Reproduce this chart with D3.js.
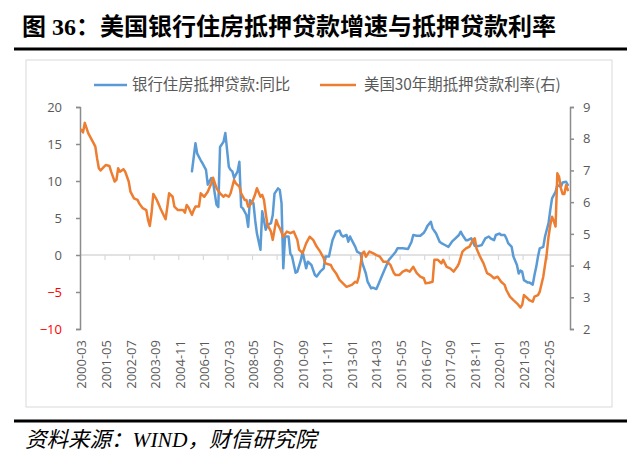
<!DOCTYPE html>
<html><head><meta charset="utf-8">
<script src="https://cdn.jsdelivr.net/npm/d3@7"></script>
<style>body{margin:0;background:#fff}svg{display:block}</style>
</head><body>
<svg id="c" width="640" height="464"></svg>
<script>
// ---------- data ----------
const titleText = "图 36：美国银行住房抵押贷款增速与抵押贷款利率";
const sourceText = "资料来源：WIND，财信研究院";
const seriesNames = ["银行住房抵押贷款:同比", "美国30年期抵押贷款利率(右)"];
const firstMonth = "2000-03", lastMonth = "2023-05";
const xTickLabels = ["2000-03","2001-05","2002-07","2003-09","2004-11","2006-01","2007-03","2008-05","2009-07","2010-09","2011-11","2013-01","2014-03","2015-05","2016-07","2017-09","2018-11","2020-01","2021-03","2022-05"];
const leftTicks = [-10,-5,0,5,10,15,20];
const rightTicks = [2,3,4,5,6,7,8,9];

// 银行住房抵押贷款:同比 (%), left axis
const loanGrowth = [
["2005-06",11.3],["2005-08",15.1],["2005-09",13.7],["2005-11",12.8],["2005-12",12.4],["2006-02",11.5],["2006-03",9.5],["2006-05",10.4],["2006-06",9.9],["2006-07",8.3],["2006-08",6.8],["2006-09",6.5],["2006-10",14.6],["2006-12",15.3],["2007-01",16.5],["2007-03",11.9],["2007-04",11.5],["2007-05",11.3],["2007-06",10.4],["2007-08",11.3],["2007-09",12.6],["2007-10",6.5],["2007-11",6.3],
["2008-01",5.4],["2008-02",3.8],["2008-03",7.4],["2008-05",7.0],["2008-06",4.7],["2008-07",2.9],["2008-09",0.7],["2008-10",5.9],["2008-12",3.4],["2009-01",4.05],["2009-03",4.3],["2009-04",5.4],["2009-05",8.3],["2009-07",9.0],["2009-08",8.8],["2009-09",7.0],["2009-10",-1.8],["2009-11",2.5],
["2010-01",2.5],["2010-02",0.2],["2010-03",-0.2],["2010-05",-2.4],["2010-06",-2.25],["2010-08",-0.7],["2010-09",0.45],["2010-11",-1.8],["2010-12",-0.9],["2011-02",-1.35],["2011-04",-2.7],["2011-05",-2.9],["2011-07",-2.25],["2011-09",-1.8],["2011-10",-0.2],["2011-12",-0.2],
["2012-01",0.9],["2012-02",2.0],["2012-04",3.15],["2012-06",3.3],["2012-07",2.7],["2012-08",2.5],["2012-10",2.7],["2012-11",1.8],["2012-12",2.5],["2013-01",2.0],["2013-03",1.1],["2013-04",0.45],["2013-06",0.2],["2013-07",-1.1],["2013-09",-2.5],["2013-10",-3.6],["2013-12",-4.5],
["2014-01",-4.4],["2014-03",-4.6],["2014-04",-4.05],["2014-06",-2.9],["2014-08",-1.8],["2014-10",-0.7],["2014-12",-0.14],["2015-02",0.45],["2015-03",0.9],["2015-06",0.9],["2015-09",0.8],["2015-11",1.8],["2015-12",2.7],
["2016-02",2.6],["2016-04",2.6],["2016-06",3.0],["2016-07",3.4],["2016-08",3.9],["2016-10",4.5],["2016-11",3.6],["2017-01",2.9],["2017-03",1.8],["2017-04",1.6],["2017-06",1.35],["2017-08",1.1],["2017-10",1.8],["2017-12",2.25],
["2018-02",2.7],["2018-03",3.15],["2018-04",2.7],["2018-06",2.0],["2018-07",2.0],["2018-09",2.25],["2018-10",1.8],["2018-11",1.2],["2019-01",1.2],["2019-03",1.35],["2019-05",2.25],["2019-07",2.5],["2019-08",2.25],["2019-10",2.0],["2019-11",2.7],
["2020-01",2.9],["2020-02",2.7],["2020-04",2.7],["2020-05",2.25],["2020-06",1.6],["2020-08",1.1],["2020-09",-0.2],["2020-11",-1.35],["2020-12",-2.5],["2021-01",-2.1],["2021-02",-2.25],["2021-03",-3.4],["2021-05",-3.7],["2021-06",-3.7],["2021-08",-4.0],["2021-09",-2.7],["2021-10",-1.6],["2021-11",-0.2],["2021-12",0.9],
["2022-02",1.1],["2022-03",2.5],["2022-05",4.3],["2022-06",6.1],["2022-07",7.65],["2022-08",8.1],["2022-09",8.55],["2022-10",9.46],["2022-12",9.2],["2023-01",9.8],["2023-03",9.9],["2023-04",9.46]
];

// 美国30年期抵押贷款利率 (%), right axis
const mortgageRate = [
["2000-03",8.28],["2000-04",8.2],["2000-05",8.5],["2000-07",8.17],["2000-10",7.86],["2000-11",7.75],["2000-12",7.38],["2001-01",7.07],["2001-02",7.0],["2001-04",7.12],["2001-05",7.17],["2001-07",7.14],["2001-08",6.96],["2001-10",6.65],["2001-11",6.7],["2001-12",7.07],
["2002-01",6.96],["2002-03",7.04],["2002-04",6.96],["2002-06",6.65],["2002-07",6.33],["2002-09",6.12],["2002-11",6.07],["2002-12",5.96],["2003-02",5.81],["2003-04",5.75],["2003-05",5.44],["2003-06",5.25],["2003-07",5.65],["2003-08",6.26],["2003-10",6.07],["2003-11",5.94],["2003-12",5.81],
["2004-03",5.46],["2004-04",5.86],["2004-05",6.28],["2004-07",6.17],["2004-08",5.86],["2004-10",5.75],["2005-01",5.75],["2005-02",5.67],["2005-03",5.91],["2005-04",5.84],["2005-06",5.6],["2005-07",5.75],["2005-08",5.86],["2005-10",5.86],["2005-11",6.28],
["2006-01",6.17],["2006-03",6.33],["2006-05",6.59],["2006-06",6.77],["2006-08",6.44],["2006-10",6.28],["2006-12",6.17],["2007-01",6.23],["2007-03",6.17],["2007-04",6.28],["2007-06",6.7],["2007-07",6.59],["2007-09",6.49],["2007-10",6.28],["2007-12",6.07],
["2008-01",6.07],["2008-02",5.86],["2008-04",5.96],["2008-06",6.25],["2008-07",6.44],["2008-09",6.17],["2008-10",6.23],["2008-11",6.07],["2008-12",5.65],["2009-01",5.28],["2009-02",5.18],["2009-03",5.07],["2009-04",4.81],["2009-06",5.44],["2009-07",5.28],["2009-08",5.18],["2009-10",4.91],["2009-12",5.07],
["2010-02",5.02],["2010-04",5.07],["2010-06",4.81],["2010-07",4.5],["2010-09",4.39],["2010-11",4.7],["2011-01",4.91],["2011-03",4.81],["2011-05",4.6],["2011-07",4.44],["2011-09",4.23],["2011-10",4.07],
["2012-01",4.02],["2012-02",3.91],["2012-04",3.76],["2012-06",3.55],["2012-08",3.44],["2012-10",3.33],["2013-01",3.39],["2013-03",3.49],["2013-04",3.46],["2013-05",3.65],["2013-07",4.39],["2013-08",4.44],["2013-09",4.28],["2013-11",4.44],
["2014-01",4.39],["2014-03",4.33],["2014-05",4.28],["2014-07",4.12],["2014-09",4.12],["2014-11",4.02],["2015-01",3.76],["2015-02",3.7],["2015-04",3.7],["2015-06",3.81],["2015-08",3.86],["2015-10",3.81],["2015-12",3.96],
["2016-02",3.76],["2016-04",3.65],["2016-06",3.6],["2016-07",3.44],["2016-09",3.46],["2016-11",3.49],["2016-12",4.18],["2017-02",4.18],["2017-04",4.07],["2017-05",4.18],["2017-07",3.96],["2017-09",3.91],["2017-11",3.81],
["2018-01",3.96],["2018-02",4.07],["2018-04",4.44],["2018-06",4.54],["2018-08",4.6],["2018-10",4.81],["2018-11",4.86],["2018-12",4.54],["2019-02",4.28],["2019-04",4.07],["2019-06",3.76],["2019-08",3.7],["2019-10",3.6],["2019-12",3.65],
["2020-02",3.49],["2020-04",3.39],["2020-05",3.23],["2020-07",3.02],["2020-09",2.91],["2020-11",2.81],["2021-01",2.68],["2021-02",2.76],["2021-03",3.07],["2021-05",2.97],["2021-06",2.91],["2021-08",2.86],["2021-09",3.02],["2021-11",3.07],["2021-12",3.18],
["2022-02",3.65],["2022-04",4.39],["2022-05",4.91],["2022-06",5.28],["2022-07",5.54],["2022-08",5.4],["2022-09",5.23],["2022-10",6.91],["2022-11",6.8],["2022-12",6.44],["2023-01",6.26],["2023-02",6.26],["2023-03",6.54],["2023-04",6.38]
];

// ---------- build monthly categories ----------
const categories = [];
{
  let [y, m] = firstMonth.split("-").map(Number);
  const [ly, lm] = lastMonth.split("-").map(Number);
  while (y < ly || (y === ly && m <= lm)) {
    categories.push(y + "-" + String(m).padStart(2, "0"));
    m++; if (m > 12) { m = 1; y++; }
  }
}

// ---------- drawing ----------
const svg = d3.select("#c");
const grey = "#595959";
const axisGrey = "#8c8c8c";
const cBlue = "#5b9bd5", cOrange = "#ed7d31";

const x = d3.scaleBand().domain(categories).range([80.4, 570.5]).padding(0);
const xc = c => x(c) + x.bandwidth() / 2;
const yL = d3.scaleLinear().domain([-10, 20]).range([329, 107]);
const yR = d3.scaleLinear().domain([2, 9]).range([329, 107]);

// title
svg.append("text").attr("x", 22).attr("y", 35)
  .attr("font-family", "'Liberation Serif','Noto Sans CJK SC',serif")
  .attr("font-weight", "bold").attr("font-size", 24).attr("fill", "#000")
  .text(titleText);
svg.append("line").attr("x1", 14).attr("x2", 627).attr("y1", 49).attr("y2", 49)
  .attr("stroke", "#000").attr("stroke-width", 3);

// chart frame
svg.append("rect").attr("x", 26).attr("y", 60).attr("width", 586).attr("height", 347)
  .attr("fill", "none").attr("stroke", "#d9d9d9").attr("stroke-width", 1);

// zero line + category ticks
svg.append("line").attr("x1", 80).attr("x2", 570).attr("y1", yL(0)).attr("y2", yL(0))
  .attr("stroke", "#d9d9d9").attr("stroke-width", 1.5);
const tickIdx = xTickLabels.map(l => categories.indexOf(l)).filter(i => i > 0);
svg.append("g").selectAll("line").data(tickIdx).join("line")
  .attr("x1", i => x(categories[i])).attr("x2", i => x(categories[i]))
  .attr("y1", yL(0)).attr("y2", yL(0) + 5)
  .attr("stroke", "#d9d9d9").attr("stroke-width", 1.2);

// x labels via axis
const xPoint = d3.scalePoint().domain(categories).range([xc(categories[0]), xc(categories[categories.length - 1])]);
const gx = svg.append("g").attr("transform", "translate(0,336)")
  .call(d3.axisBottom(xPoint).tickValues(xTickLabels).tickSize(0));
gx.select(".domain").remove();
gx.selectAll("text")
  .attr("transform", "rotate(-90)").attr("x", -4).attr("y", 0).attr("dy", "0.35em")
  .attr("text-anchor", "end")
  .attr("font-family", "'Open Sans',sans-serif").attr("font-size", 13).attr("fill", grey);

// left axis
const gl = svg.append("g").attr("transform", "translate(80,0)")
  .call(d3.axisLeft(yL).tickValues(leftTicks).tickSize(4).tickPadding(14).tickFormat(d3.format("d")));
gl.select(".domain").attr("stroke", axisGrey).attr("stroke-width", 1.5);
gl.selectAll(".tick line").attr("stroke", axisGrey).attr("stroke-width", 1.5);
gl.selectAll("text").attr("font-family", "'Open Sans',sans-serif").attr("font-size", 13)
  .attr("fill", d => d < 0 ? "#ff0000" : grey);

// right axis
const gr = svg.append("g").attr("transform", "translate(570,0)")
  .call(d3.axisRight(yR).tickValues(rightTicks).tickSize(4).tickPadding(9).tickFormat(d3.format("d")));
gr.select(".domain").attr("stroke", axisGrey).attr("stroke-width", 1.5);
gr.selectAll(".tick line").attr("stroke", axisGrey).attr("stroke-width", 1.5);
gr.selectAll("text").attr("font-family", "'Open Sans',sans-serif").attr("font-size", 13).attr("fill", grey);

// lines
const lineL = d3.line().x(d => xc(d[0])).y(d => yL(d[1]));
const lineR = d3.line().x(d => xc(d[0])).y(d => yR(d[1]));
svg.append("path").datum(loanGrowth).attr("d", lineL)
  .attr("fill", "none").attr("stroke", cBlue).attr("stroke-width", 2.5)
  .attr("stroke-linejoin", "round").attr("stroke-linecap", "round");
svg.append("path").datum(mortgageRate).attr("d", lineR)
  .attr("fill", "none").attr("stroke", cOrange).attr("stroke-width", 2.5)
  .attr("stroke-linejoin", "round").attr("stroke-linecap", "round");

// legend
const legend = [
  {name: seriesNames[0], color: cBlue, x1: 94, x2: 127, tx: 132},
  {name: seriesNames[1], color: cOrange, x1: 320, x2: 356, tx: 364}
];
const lg = svg.append("g");
legend.forEach(l => {
  lg.append("line").attr("x1", l.x1).attr("x2", l.x2).attr("y1", 85).attr("y2", 85)
    .attr("stroke", l.color).attr("stroke-width", 2.5);
  lg.append("text").attr("x", l.tx).attr("y", 85).attr("dy", "0.35em")
    .attr("font-family", "'Noto Sans CJK SC',sans-serif").attr("font-size", 15.4).attr("fill", grey)
    .text(l.name);
});

// source
svg.append("line").attr("x1", 14).attr("x2", 627).attr("y1", 421).attr("y2", 421)
  .attr("stroke", "#000").attr("stroke-width", 3);
svg.append("text").attr("x", 25).attr("y", 447)
  .attr("font-family", "'Liberation Serif','Noto Sans CJK SC',serif")
  .attr("font-style", "italic").attr("font-size", 21.5).attr("fill", "#000")
  .text(sourceText);
</script>
</body></html>
